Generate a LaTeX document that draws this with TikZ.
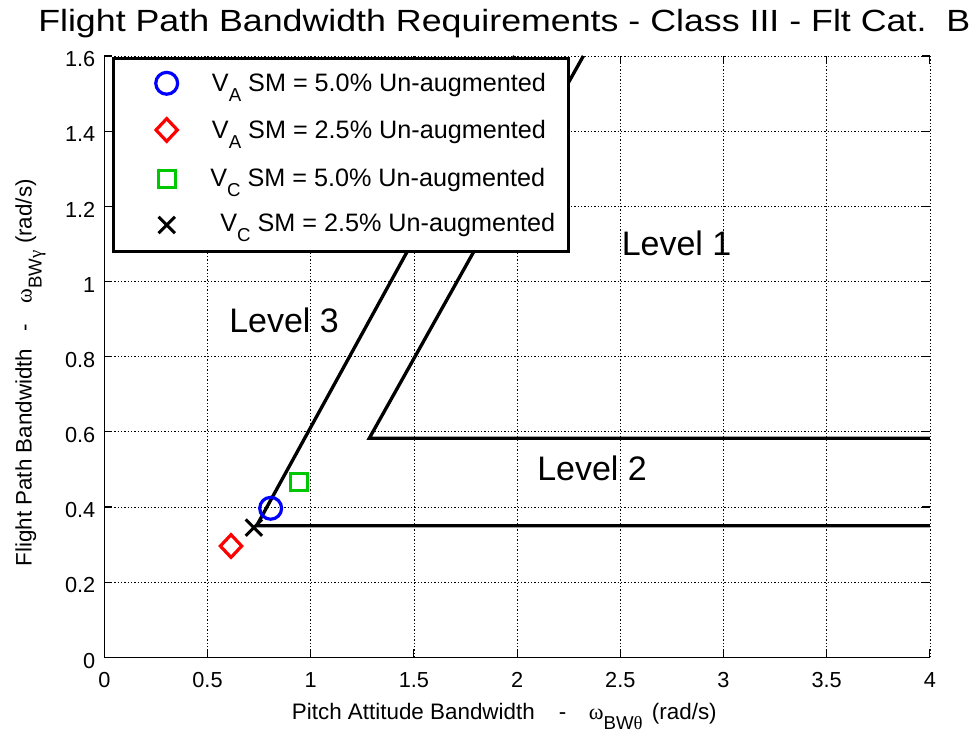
\documentclass[tikz,border=0pt]{standalone}
\usepackage{fontspec}
\setmainfont{Liberation Sans}
\newfontfamily\greekserif{Liberation Serif}
\usetikzlibrary{shapes.geometric,shapes.misc}

\definecolor{mkblue}{RGB}{0,0,255}
\definecolor{mkred}{RGB}{255,0,0}
\definecolor{mkgreen}{RGB}{0,200,0}

% font size helper and a dropped subscript: depth, size, text
\newcommand{\fs}[1]{\fontsize{#1}{#1}\selectfont}
\newcommand{\dropsub}[3]{\raisebox{-#1}{\fs{#2}#3}}
% axis title: words, Greek subscript letter, then the three gaps around "-" and before the unit
\newcommand{\axtitle}[5]{\fs{16.8pt}#1\hspace{#3}-\hspace{#4}{\greekserif ω}\dropsub{7.5pt}{14pt}{BW{\greekserif #2}}\hspace{#5}(rad/s)}

\begin{document}
\begin{tikzpicture}[x=0.75pt,y=0.75pt,
  gridline/.style={line width=0.6pt,dash pattern=on 1pt off 1.5pt},
  axisline/.style={line width=0.8pt},
  tickmark/.style={line width=0.8pt},
  boundary/.style={line width=2.5pt,line join=miter},
  ticklab/.style={inner sep=0pt,font=\fs{16.3pt}},
  levlab/.style={inner sep=0pt,anchor=base west,font=\fs{25.5pt}},
  legtext/.style={inner sep=0pt,anchor=base west,font=\fs{18.9pt}},
  mkcircle/.style={circle,draw=mkblue,line width=2.4pt,minimum size=16.4pt,inner sep=0pt},
  mkdiamond/.style={diamond,draw=mkred,line width=2.4pt,minimum width=17pt,minimum height=18pt,inner sep=0pt},
  mksquare/.style={rectangle,draw=mkgreen,line width=2.4pt,minimum size=12.8pt,inner sep=0pt},
  mkcross/.style={cross out,draw=black,line width=2.3pt,minimum size=10pt,inner sep=0pt},
]
\useasboundingbox (0,0) rectangle (976,734);

% ---------- data frame: x in rad/s (0..4), y in rad/s (0..1.6)
\begin{scope}[shift={(104.3,76.7)},x=154.8pt,y=281.85pt]
  % grid (also forms the top and right edges)
  \foreach \gx in {0.5,1,1.5,2,2.5,3,3.5,4}
    \draw[gridline] (\gx,0) -- (\gx,1.6);
  \foreach \gy in {0.2,0.4,0.6,0.8,1,1.2,1.4,1.6}
    \draw[gridline] (0,\gy) -- (4,\gy);
  % solid left and bottom axes
  \draw[axisline] (0,1.6) -- (0,0) -- (4,0);
  % inward ticks on all four sides
  \foreach \gx in {0,0.5,1,1.5,2,2.5,3,3.5,4} {
    \draw[tickmark] (\gx,0) -- ++(0pt,6pt);
    \draw[tickmark] (\gx,1.6) -- ++(0pt,-6pt);
  }
  \foreach \gy in {0,0.2,0.4,0.6,0.8,1,1.2,1.4,1.6} {
    \draw[tickmark] (0,\gy) -- ++(6pt,0pt);
    \draw[tickmark] (4,\gy) -- ++(-6pt,0pt);
  }
  % tick labels
  \foreach \gx [count=\k] in {0,0.5,1,1.5,2,2.5,3,3.5,4}
    \node[ticklab,anchor=north,yshift=-11.3pt] (xt\k) at (\gx,0) {\gx};
  \foreach \gy [count=\k] in {0,0.2,0.4,0.6,0.8,1,1.2,1.4,1.6}
    \node[ticklab,anchor=east,xshift=-6.6pt,yshift=-2.5pt] (yt\k) at (0,\gy) {\gy};

  % level boundaries
  \draw[boundary] (4,0.35) -- (0.738,0.35) -- (1.988,1.6);
  \draw[boundary] (4,0.583) -- (1.284,0.583) -- (2.321,1.6);

  % data points
  \node[mkcircle]  (ptA5)  at (0.806,0.3965) {};
  \node[mkdiamond] (ptA25) at (0.614,0.296) {};
  \node[mksquare]  (ptC5)  at (0.945,0.467) {};
  \node[mkcross]   (ptC25) at (0.725,0.345) {};
\end{scope}

% ---------- level labels
\node[levlab] (lev1) at (621.5,478) {Level 1};
\node[levlab] (lev3) at (229,401) {Level 3};
\node[levlab] (lev2) at (537,253) {Level 2};

% ---------- legend
\node[draw=black,fill=white,line width=2pt,minimum width=341.25pt,minimum height=145pt,inner sep=0pt]
  (legend) at (340.8,579) {};
\node[mkcircle]  (lgA5mk)  at (166.7,650.7) {};
\node[mkdiamond] (lgA25mk) at (166.7,604) {};
\node[mksquare]  (lgC5mk)  at (166.7,554.7) {};
\node[mkcross]   (lgC25mk) at (166.7,509) {};
\node[legtext] (lgA5)  at (211.7,642.3) {V\dropsub{7.5pt}{14pt}{A} SM = 5.0\% Un-augmented};
\node[legtext] (lgA25) at (211.7,595.7) {V\dropsub{7.5pt}{14pt}{A} SM = 2.5\% Un-augmented};
\node[legtext] (lgC5)  at (210,547.3)   {V\dropsub{7.5pt}{14pt}{C} SM = 5.0\% Un-augmented};
\node[legtext] (lgC25) at (220,502.3)   {V\dropsub{7.5pt}{14pt}{C} SM = 2.5\% Un-augmented};

% ---------- axis titles and plot title
\node[inner sep=0pt,anchor=base west] (xlabel) at (291.7,14)
  {\axtitle{Pitch Attitude Bandwidth}{θ}{18pt}{17pt}{7pt}};
\node[inner sep=0pt,anchor=base west,rotate=90] (ylabel) at (31.7,167.3)
  {\axtitle{Flight Path Bandwidth}{γ}{13pt}{15pt}{5pt}};
\node[inner sep=0pt,anchor=base west] (title) at (38,702.3)
  {\resizebox{699pt}{\height}{\fs{23pt}Flight Path Bandwidth Requirements - Class III - Flt Cat.\ \ B}};
\end{tikzpicture}
\end{document}
